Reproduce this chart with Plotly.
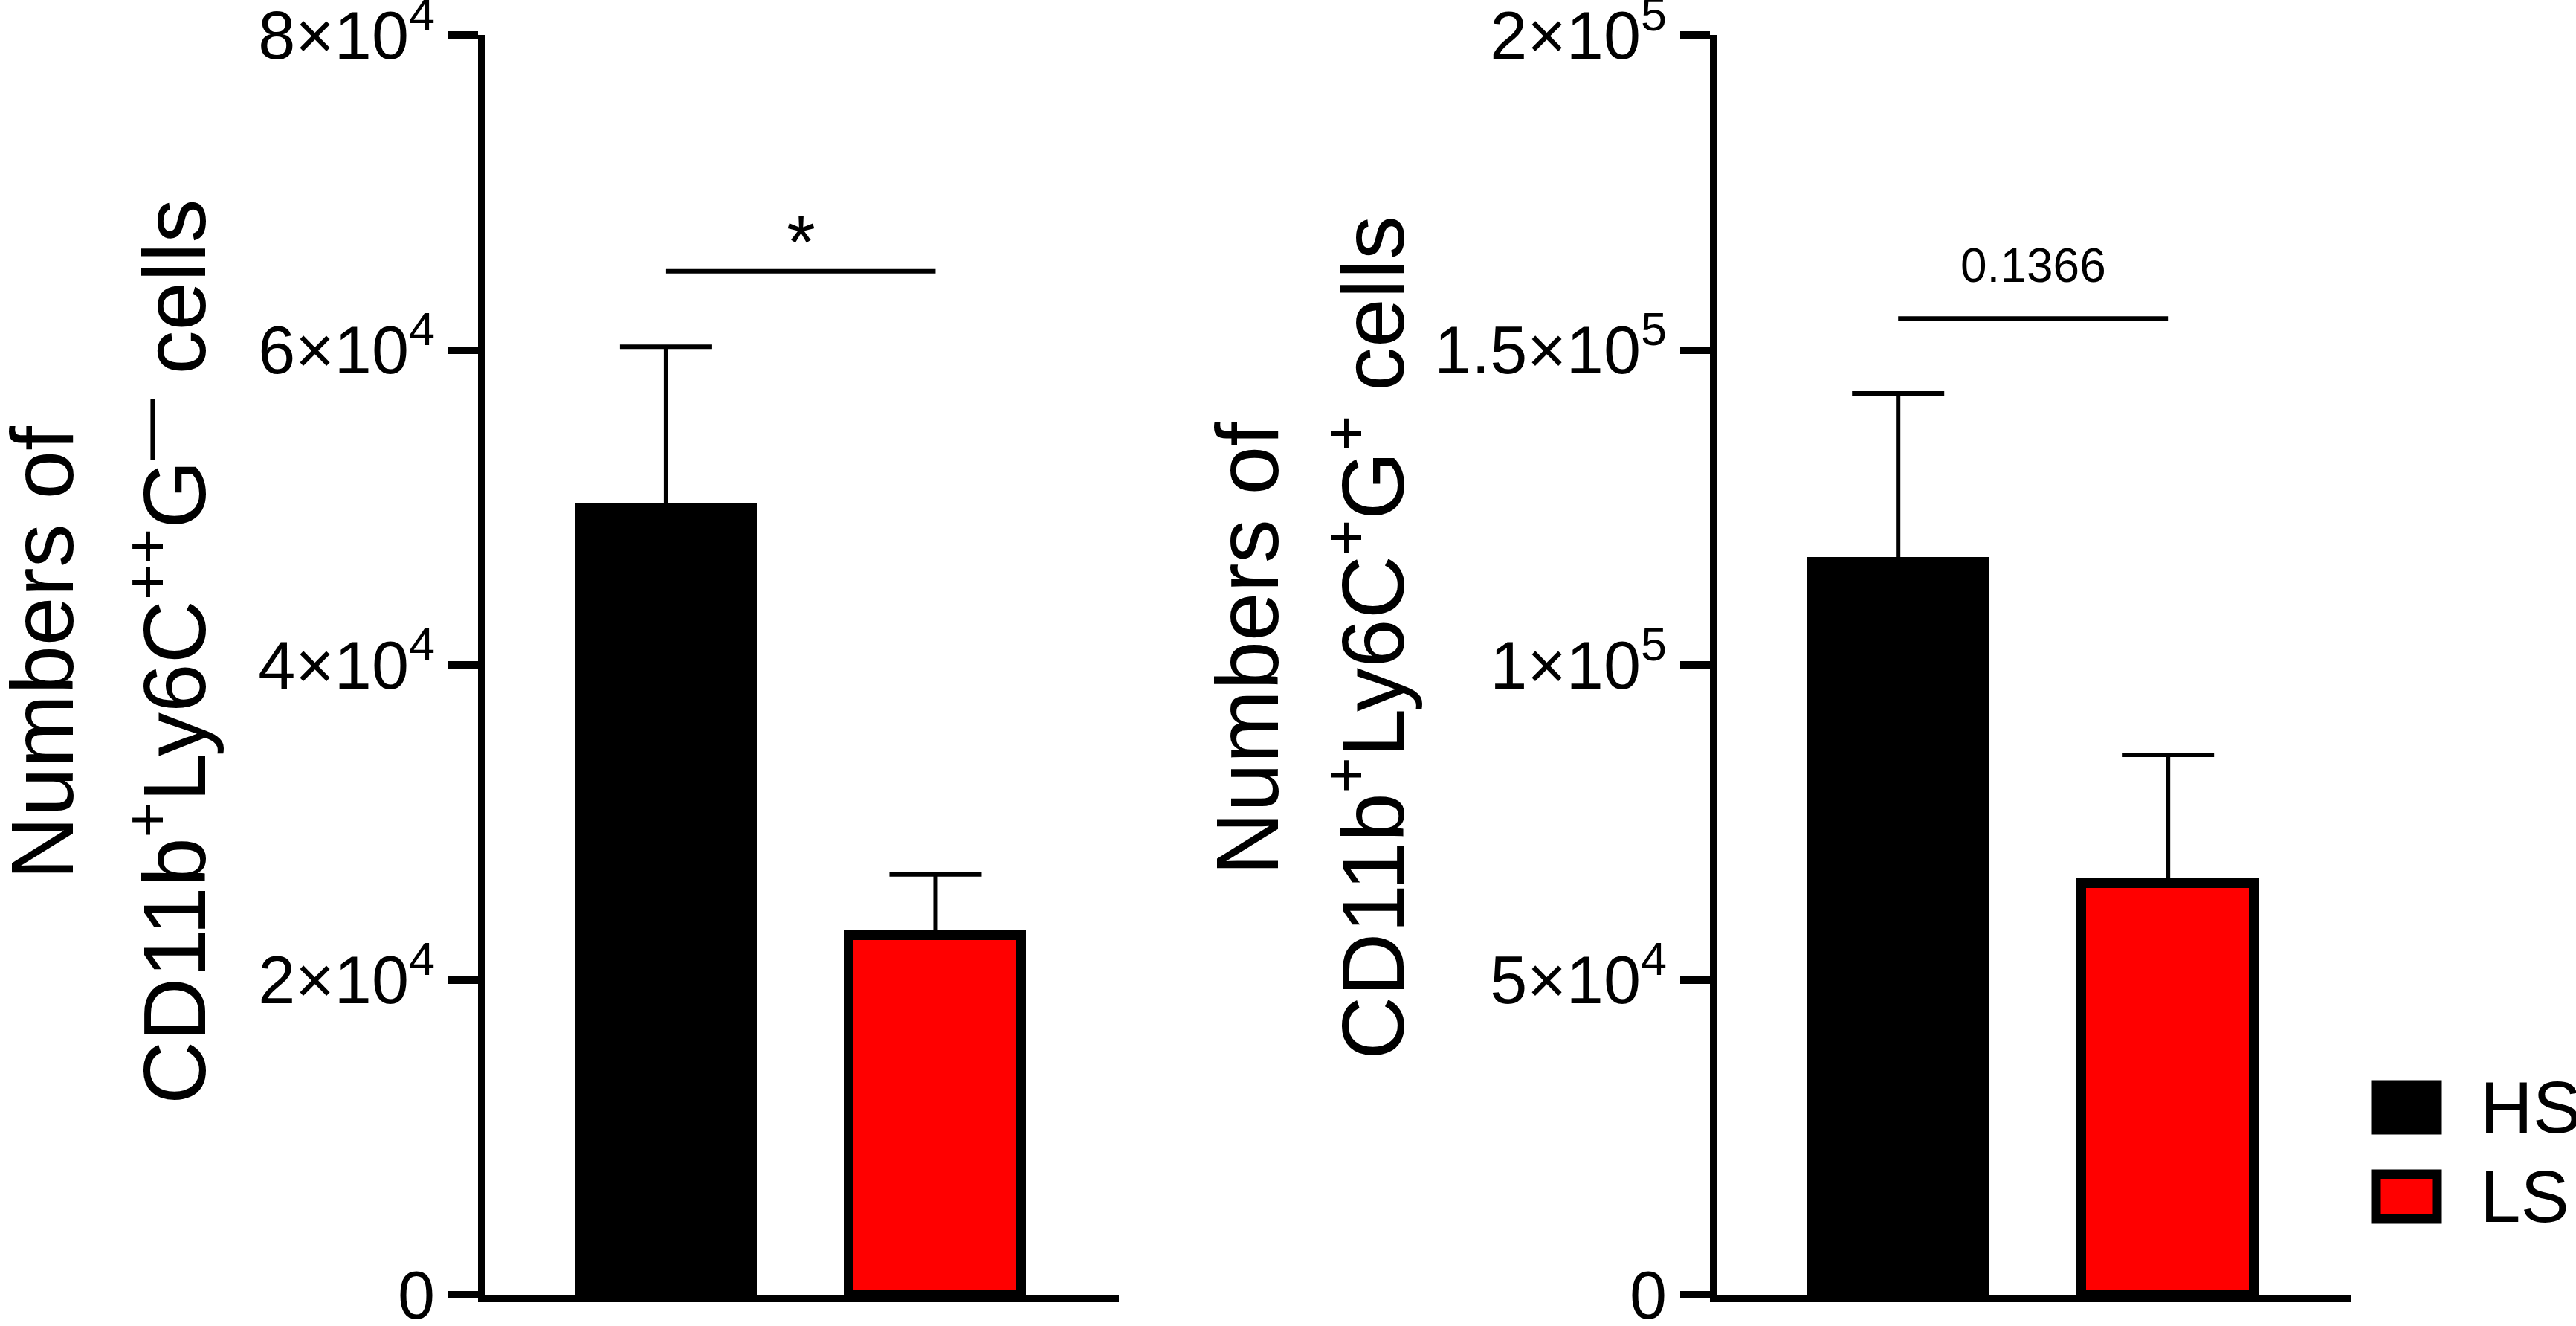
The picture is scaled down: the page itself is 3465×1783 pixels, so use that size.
import plotly.graph_objects as go

W, H = 3465, 1783

groups = ["HS", "LS"]
colors = ["#000000", "#ff0000"]

# left panel: CD11b+Ly6C++G- cells
mono_mean = [49900, 22800]
mono_sem = [10300, 3900]

# right panel: CD11b+Ly6C+G+ cells
gran_mean = [116300, 65300]
gran_sem = [26800, 20400]

ticks_left = [0, 20000, 40000, 60000, 80000]
ticklabels_left = ["0", "2×10<sup>4</sup>", "4×10<sup>4</sup>", "6×10<sup>4</sup>", "8×10<sup>4</sup>"]
ticks_right = [0, 50000, 100000, 150000, 200000]
ticklabels_right = ["0", "5×10<sup>4</sup>", "1×10<sup>5</sup>", "1.5×10<sup>5</sup>", "2×10<sup>5</sup>"]

sig_level = [65000, 155000]
sig_label = ["*", "0.1366"]

title_left = ["Numbers of", "CD11b<sup>+</sup>Ly6C<sup>++</sup>G<sup>—</sup> cells"]
title_right = ["Numbers of", "CD11b<sup>+</sup>Ly6C<sup>+</sup>G<sup>+</sup> cells"]

FONT = "Liberation Sans, Arial, sans-serif"


def px(x):
    return x / W


def py(y):
    return 1 - y / H


fig = go.Figure()

panels = [
    (mono_mean, mono_sem, "x", "y"),
    (gran_mean, gran_sem, "x2", "y2"),
]
for means, sems, xa, ya in panels:
    fig.add_trace(go.Bar(
        x=groups, y=means, width=0.64,
        marker=dict(color=colors, line=dict(color="black", width=13)),
        error_y=dict(type="data", array=sems, arrayminus=[0, 0], symmetric=False,
                     color="black", thickness=6, width=62),
        xaxis=xa, yaxis=ya, showlegend=False,
    ))

# significance bars
for i, (xa, ya) in enumerate([("x", "y"), ("x2", "y2")]):
    fig.add_trace(go.Scatter(
        x=groups, y=[sig_level[i], sig_level[i]], mode="lines",
        line=dict(color="black", width=6), xaxis=xa, yaxis=ya,
        showlegend=False, hoverinfo="skip",
    ))
fig.add_annotation(x=0.5, y=sig_level[0], xref="x", yref="y", text=sig_label[0],
                   showarrow=False, yshift=40, font=dict(size=100, color="black", family=FONT))
fig.add_annotation(x=0.5, y=sig_level[1], xref="x2", yref="y2", text=sig_label[1],
                   showarrow=False, yshift=71, font=dict(size=64, color="black", family=FONT))

axis_common = dict(showline=True, linewidth=10, linecolor="black", showgrid=False,
                   zeroline=False, automargin=False)
yaxis_common = dict(ticks="outside", ticklen=40, tickwidth=10, tickcolor="black",
                    ticklabeloverflow="allow",
                    tickfont=dict(size=90, color="black", family=FONT))
xrange = [-0.67, 1.68]
fig.update_layout(
    width=W, height=H,
    margin=dict(l=0, r=0, t=0, b=0),
    paper_bgcolor="white", plot_bgcolor="white",
    bargap=0,
    xaxis=dict(domain=[px(653), px(1505)], range=xrange, showticklabels=False,
               ticks="", anchor="y", **axis_common),
    xaxis2=dict(domain=[px(2310), px(3163)], range=xrange, showticklabels=False,
                ticks="", anchor="y2", **axis_common),
    yaxis=dict(domain=[py(1741), py(47)], range=[0, 80000], anchor="x",
               tickvals=ticks_left, ticktext=ticklabels_left,
               **yaxis_common, **axis_common),
    yaxis2=dict(domain=[py(1741), py(47)], range=[0, 200000], anchor="x2",
                tickvals=ticks_right, ticktext=ticklabels_right,
                **yaxis_common, **axis_common),
)

# rotated two-line y titles
title_pos = [
    (title_left[0], 57, 878), (title_left[1], 226, 876),
    (title_right[0], 1678, 872), (title_right[1], 1838, 858),
]
for text, cx, cy in title_pos:
    fig.add_annotation(x=px(cx), y=py(cy), xref="paper", yref="paper", text=text,
                       textangle=-90, showarrow=False, xanchor="center", yanchor="middle",
                       font=dict(size=118, color="black", family=FONT))

# legend drawn by hand so the keys can be large
for i, (g, c) in enumerate(zip(groups, colors)):
    top = 1459 + i * 120
    fig.add_shape(type="rect", xref="paper", yref="paper",
                  x0=px(3196), x1=px(3278), y0=py(top + 60), y1=py(top),
                  fillcolor=c, line=dict(color="black", width=13))
    fig.add_annotation(x=px(3334), y=py(top + 30), xref="paper", yref="paper", text=g,
                       showarrow=False, xanchor="left", yanchor="middle",
                       font=dict(size=98, color="black", family=FONT))

fig.write_html("out.html", config={"displayModeBar": False},
               post_script="document.body.style.margin='0';")
